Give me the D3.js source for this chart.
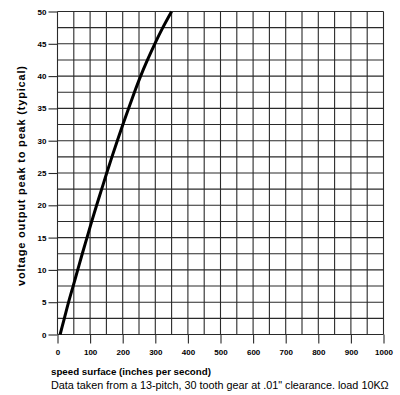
<!DOCTYPE html>
<html>
<head>
<meta charset="utf-8">
<script src="https://cdn.jsdelivr.net/npm/d3@7"></script>
<style>
  html, body { margin: 0; padding: 0; background: #fff; }
  svg { display: block; font-family: "Liberation Sans", Arial, Helvetica, sans-serif; }
</style>
</head>
<body>
<svg id="chart" width="400" height="395"></svg>
<script>
// ---- data ----
const voltage = [0, 2.5, 5, 7.5, 10, 12.5, 15, 17.5, 20, 22.5, 25, 27.5, 30, 32.5, 35, 37.5, 40, 42.5, 45, 47.5, 50];
const speed   = [8, 21, 34, 48, 62, 76, 90.5, 105, 120, 135.5, 151, 167, 183.5, 200.5, 218, 236, 255, 276, 298.5, 323, 350];
const xTickLabels = [0, 100, 200, 300, 400, 500, 600, 700, 800, 900, 1000];
const yTickLabels = [0, 5, 10, 15, 20, 25, 30, 35, 40, 45, 50];
const xGrid = d3.range(0, 1001, 50);
const yGrid = d3.range(0, 50.01, 2.5);
const xTitle = "speed surface (inches per second)";
const yTitle = "voltage output peak to peak (typical)";
const note = "Data taken from a 13-pitch, 30 tooth gear at .01\" clearance. load 10K\u03A9";

// ---- layout ----
const svg = d3.select("#chart");
const x = d3.scaleLinear().domain([0, 1000]).range([57.5, 383.5]);
const y = d3.scaleLinear().domain([0, 50]).range([334.5, 11.5]);
const gridColor = "#2a2a2a";

// grid
svg.append("g").selectAll("line").data(xGrid).join("line")
  .attr("x1", d => x(d)).attr("x2", d => x(d))
  .attr("y1", y(50)).attr("y2", y(0))
  .attr("stroke", gridColor).attr("stroke-width", 1.1);
svg.append("g").selectAll("line").data(yGrid).join("line")
  .attr("x1", x(0)).attr("x2", x(1000))
  .attr("y1", d => y(d)).attr("y2", d => y(d))
  .attr("stroke", gridColor).attr("stroke-width", 1.1);

// axes (ticks + labels)
const xAxis = d3.axisBottom(x).tickValues(xTickLabels).tickSize(9).tickPadding(6).tickFormat(d3.format("d"));
const gx = svg.append("g").attr("transform", `translate(0,${y(0)})`).call(xAxis);
gx.select(".domain").remove();
gx.selectAll(".tick line").attr("stroke", gridColor).attr("stroke-width", 1.1);
gx.selectAll(".tick text").attr("font-size", 8).attr("font-weight", "bold").attr("fill", "#000")
  .attr("font-family", "Liberation Sans, Arial, sans-serif");

const yAxis = d3.axisLeft(y).tickValues(yTickLabels).tickSize(9).tickPadding(2).tickFormat(d3.format("d"));
const gy = svg.append("g").attr("transform", `translate(${x(0)},0)`).call(yAxis);
gy.select(".domain").remove();
gy.selectAll(".tick line").attr("stroke", gridColor).attr("stroke-width", 1.1);
gy.selectAll(".tick text").attr("font-size", 8).attr("font-weight", "bold").attr("fill", "#000")
  .attr("font-family", "Liberation Sans, Arial, sans-serif");

// curve
const pts = speed.map((s, i) => [s, voltage[i]]);
const line = d3.line().x(d => x(d[0])).y(d => y(d[1])).curve(d3.curveMonotoneY);
svg.append("path").datum(pts)
  .attr("d", line).attr("fill", "none")
  .attr("stroke", "#000").attr("stroke-width", 3).attr("stroke-linecap", "butt");

// helper: fit a text to a target length by scaling its font size
function fitText(sel, target) {
  const fs = +sel.attr("font-size");
  const len = sel.node().getComputedTextLength();
  if (len > 0) sel.attr("font-size", (fs * target / len).toFixed(2));
}

// titles
svg.append("text")
  .attr("transform", `translate(24.5,176) rotate(-90)`)
  .attr("text-anchor", "middle")
  .attr("font-size", 11).attr("font-weight", "bold")
  .attr("textLength", 220).attr("lengthAdjust", "spacing")
  .text(yTitle);

const xt = svg.append("text")
  .attr("x", 51).attr("y", 374.5)
  .attr("font-size", 10).attr("font-weight", "bold")
  .text(xTitle);
fitText(xt, 160);

const nt = svg.append("text")
  .attr("x", 51).attr("y", 388.5)
  .attr("font-size", 10)
  .text(note);
fitText(nt, 338);
</script>
</body>
</html>
